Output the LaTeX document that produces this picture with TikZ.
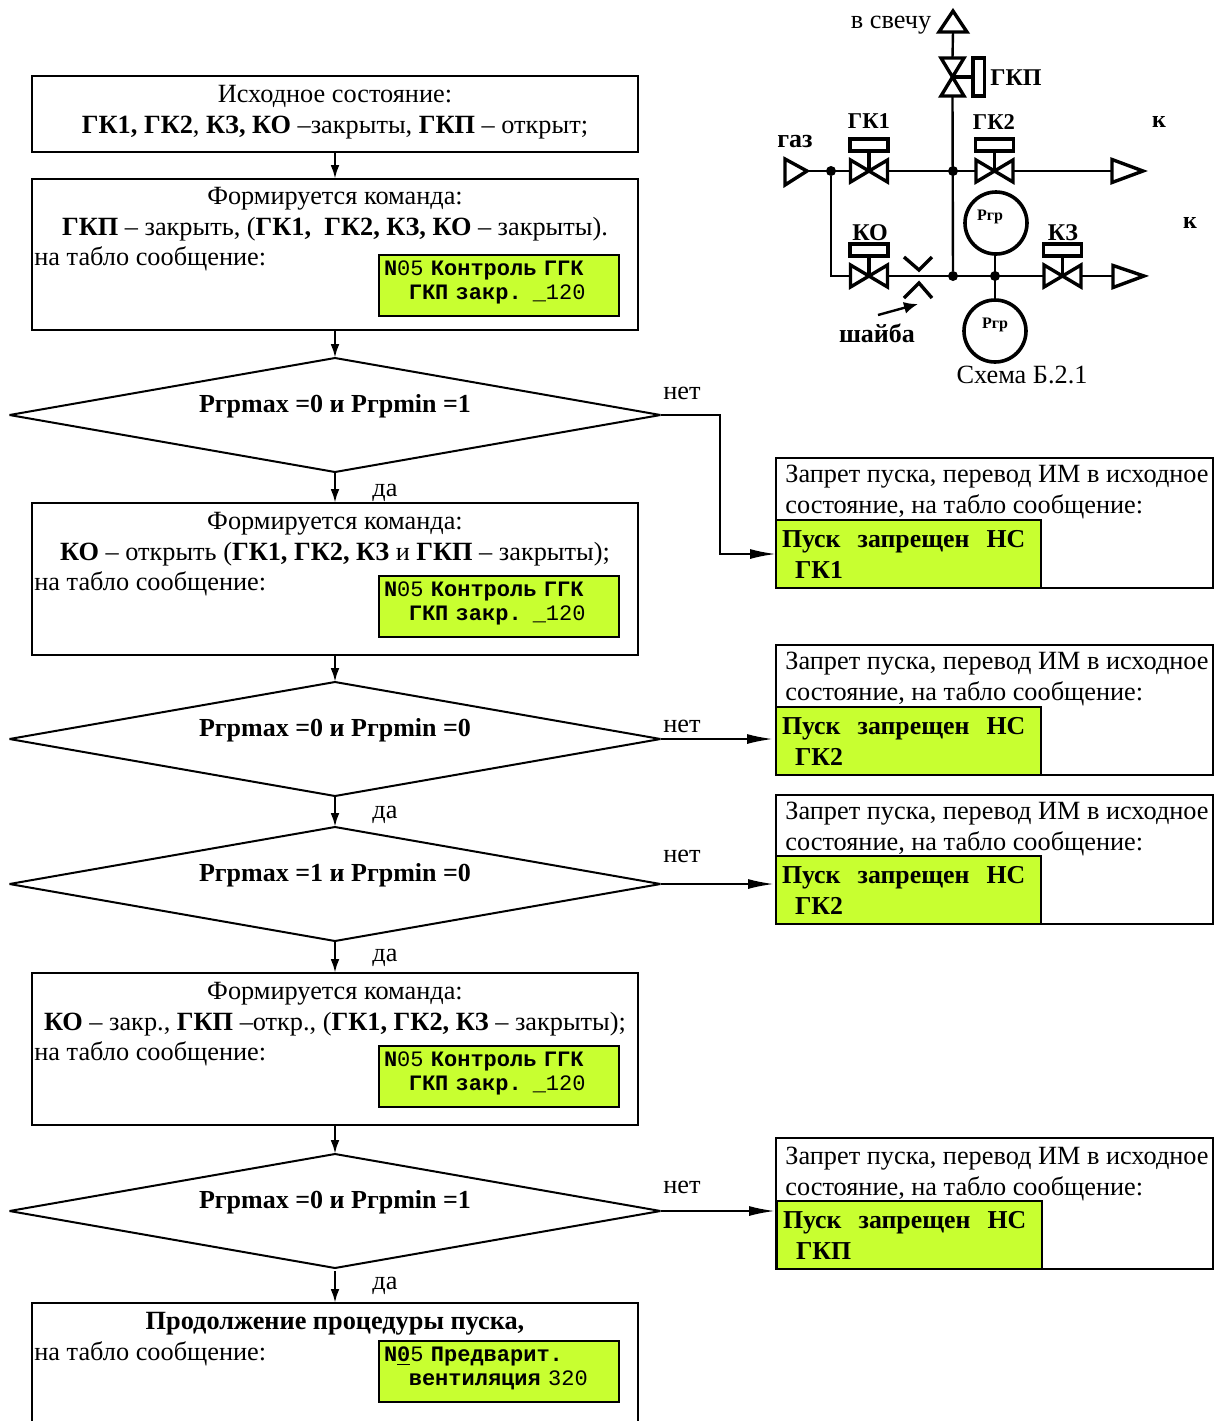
\documentclass[tikz,border=0pt]{standalone}
\usepackage{fontspec}
\setmainfont{Liberation Serif}
\setmonofont{Liberation Mono}
\usetikzlibrary{shapes.geometric, arrows.meta, positioning}
\definecolor{PanelGreen}{RGB}{200, 255, 48}

\tikzset{
    gasvalve/.pic={
        \draw[symbol] (-18.5,-11) -- (18.5,11) -- (18.5,-11) -- (-18.5,11) -- cycle;
        \draw[symbol] (0,0) -- (0,-20);
        \draw[symbol] (-19,-32) rectangle (19,-20);
        \coordinate (-w) at (-19,0);
        \coordinate (-e) at (19,0);
    },
    ventvalve/.pic={
        \draw[symbol] (-11.5,-19) -- (11.5,-19) -- (-11.5,19) -- (11.5,19) -- cycle;
        \draw[symbol] (0,0) -- (20,0);
        \draw[symbol] (20.5,-19) rectangle (32,19);
        \coordinate (-n) at (0,-19);
        \coordinate (-s) at (0,19);
    }
}

\begin{document}
\begin{tikzpicture}[
    x=0.5pt, y=-0.5pt,
    font=\fontsize{13.15}{15.5}\selectfont,
    procbox/.style={rectangle, draw, line width=1pt, inner sep=0pt, outer sep=0pt, minimum width=303pt},
    condbox/.style={diamond, draw, line width=1pt, line join=bevel, inner sep=0pt, outer sep=0pt, minimum width=325.5pt, minimum height=57pt},
    stopbox/.style={rectangle, draw, line width=1pt, inner sep=0pt, outer sep=0pt, minimum width=218.5pt},
    lcd/.style={rectangle, draw, line width=1.2pt, fill=PanelGreen, inner sep=0pt, outer sep=0pt, minimum width=120pt, minimum height=30.5pt, text width=115pt, align=left, font=\fontsize{11}{12}\selectfont\ttfamily, text depth=17pt},
    stoplcd/.style={rectangle, draw, line width=1pt, fill=PanelGreen, inner sep=0pt, outer sep=0pt, minimum width=132.5pt, minimum height=34pt, text width=126.5pt, align=left, font=\fontsize{12.9}{15.5}\selectfont\bfseries},
    cmdtext/.style={inner sep=0pt, align=center, execute at begin node={\rule{0pt}{9pt}}},
    lefttext/.style={inner sep=0pt, align=left, execute at begin node={\rule{0pt}{9pt}}},
    condtext/.style={inner sep=0pt, font=\fontsize{13}{15}\selectfont\bfseries},
    note/.style={inner sep=0pt},
    tag/.style={inner sep=0pt, font=\fontsize{12}{14}\selectfont\bfseries},
    gaugetag/.style={inner sep=0pt, font=\fontsize{8}{10}\selectfont\bfseries},
    vflow/.style={-{Latex[length=7pt,width=4.4pt]}, line width=1.2pt},
    hflow/.style={-{Latex[length=13pt,width=5pt]}, line width=1pt},
    pipe/.style={line width=1.2pt},
    symbol/.style={line width=1.7pt},
    gauge/.style={circle, draw, line width=1.8pt, inner sep=0pt, outer sep=0pt, minimum size=31pt},
    joint/.style={circle, fill=black, inner sep=0pt, outer sep=0pt, minimum size=5pt}
]
    \useasboundingbox (0,0) rectangle (1218,1421);

    % Основной алгоритм
    \node[procbox, minimum height=38pt] (initBox) at (335,114) {};
    \node[cmdtext, below=4.5pt of initBox.north] (initText) {Исходное состояние:\\ \textbf{ГК1, ГК2}, \textbf{КЗ, КО} –закрыты, \textbf{ГКП} – открыт;};

    \node[procbox, minimum height=75.5pt, below=13.5pt of initBox] (cmdA) {};
    \node[cmdtext, below=4pt of cmdA.north] (cmdAText) {Формируется команда:\\ \textbf{ГКП} – закрыть, (\textbf{ГК1,\ \ ГК2, КЗ, КО} – закрыты).};
    \node[lefttext, below right=33.5pt and 1pt of cmdA.north west] (cmdATablo) {на табло сообщение:};
    \node[lcd, below left=38pt and 9.5pt of cmdA.north east] (lcdA) {\textbf{N}05 \textbf{Контроль ГГК}\\ \hspace*{12.4pt}\textbf{ГКП закр.} \_120};

    \node[condbox, below=14pt of cmdA] (condA) {};
    \node[condtext] (condAText) at ([yshift=4.5pt]condA.center) {Ргрmax =0 и Ргрmin =1};

    \node[procbox, minimum height=76pt, below=15.5pt of condA] (cmdB) {};
    \node[cmdtext, below=4.5pt of cmdB.north] (cmdBText) {Формируется команда:\\ \textbf{КО} – открыть (\textbf{ГК1, ГК2, КЗ} и \textbf{ГКП} – закрыты);};
    \node[lefttext, below right=34pt and 1pt of cmdB.north west] (cmdBTablo) {на табло сообщение:};
    \node[lcd, below left=36.5pt and 9.5pt of cmdB.north east] (lcdB) {\textbf{N}05 \textbf{Контроль ГГК}\\ \hspace*{12.4pt}\textbf{ГКП закр.} \_120};

    \node[condbox, below=13.5pt of cmdB] (condB) {};
    \node[condtext] (condBText) at ([yshift=4.5pt]condB.center) {Ргрmax =0 и Ргрmin =0};

    \node[condbox, below=15.5pt of condB] (condC) {};
    \node[condtext] (condCText) at ([yshift=4.5pt]condC.center) {Ргрmax =1 и Ргрmin =0};

    \node[procbox, minimum height=76pt, below=16pt of condC] (cmdC) {};
    \node[cmdtext, below=4.5pt of cmdC.north] (cmdCText) {Формируется команда:\\ \textbf{КО} – закр., \textbf{ГКП} –откр., (\textbf{ГК1, ГК2, КЗ} – закрыты);};
    \node[lefttext, below right=34pt and 1pt of cmdC.north west] (cmdCTablo) {на табло сообщение:};
    \node[lcd, below left=36.5pt and 9.5pt of cmdC.north east] (lcdC) {\textbf{N}05 \textbf{Контроль ГГК}\\ \hspace*{12.4pt}\textbf{ГКП закр.} \_120};

    \node[condbox, below=14.5pt of cmdC] (condD) {};
    \node[condtext] (condDText) at ([yshift=4.5pt]condD.center) {Ргрmax =0 и Ргрmin =1};

    \node[procbox, minimum height=66pt, below=17.5pt of condD] (contBox) {};
    \node[cmdtext, below=4pt of contBox.north] (contText) {\textbf{Продолжение процедуры пуска,}};
    \node[lefttext, below right=19pt and 1pt of contBox.north west] (contTablo) {на табло сообщение:};
    \node[lcd, below left=19pt and 9.5pt of contBox.north east] (lcdD) {\textbf{N\underline{0}}5 \textbf{Предварит.}\\ \hspace*{12.4pt}\textbf{вентиляция} 320};

    % Запрет пуска
    \node[stopbox, minimum height=65pt] (stopA) at (994.5,523) {};
    \node[lefttext, below right=3.5pt and 4.5pt of stopA.north west] (stopAText) {Запрет пуска, перевод ИМ в исходное\\ состояние, на табло сообщение:};
    \node[stoplcd, above right=0pt and 0pt of stopA.south west] (stopALcd) {Пуск\ \ запрещен\ \ НС\\ \hspace*{6.5pt}ГК1};

    \node[stopbox, minimum height=65pt] (stopB) at (994.5,710) {};
    \node[lefttext, below right=3.5pt and 4.5pt of stopB.north west] (stopBText) {Запрет пуска, перевод ИМ в исходное\\ состояние, на табло сообщение:};
    \node[stoplcd, above right=0pt and 0pt of stopB.south west] (stopBLcd) {Пуск\ \ запрещен\ \ НС\\ \hspace*{6.5pt}ГК2};

    \node[stopbox, minimum height=64.5pt] (stopC) at (994.5,859.5) {};
    \node[lefttext, below right=3.5pt and 4.5pt of stopC.north west] (stopCText) {Запрет пуска, перевод ИМ в исходное\\ состояние, на табло сообщение:};
    \node[stoplcd, above right=0pt and 0pt of stopC.south west] (stopCLcd) {Пуск\ \ запрещен\ \ НС\\ \hspace*{6.5pt}ГК2};

    \node[stopbox, minimum height=65.5pt] (stopD) at (994.5,1203.5) {};
    \node[lefttext, below right=4.5pt and 4.5pt of stopD.north west] (stopDText) {Запрет пуска, перевод ИМ в исходное\\ состояние, на табло сообщение:};
    \node[stoplcd, above right=0pt and 0.5pt of stopD.south west] (stopDLcd) {Пуск\ \ запрещен\ \ НС\\ \hspace*{6.5pt}ГКП};

    % Соединения
    \coordinate (bendA) at (720,415);
    \draw[vflow] (initBox) -- (cmdA);
    \draw[vflow] (cmdA) -- (condA);
    \draw[vflow] (condA) -- (cmdB);
    \draw[vflow] (cmdB) -- (condB);
    \draw[vflow] (condB) -- (condC);
    \draw[vflow] (condC) -- (cmdC);
    \draw[vflow] (cmdC) -- (condD);
    \draw[vflow, shorten <=1.5pt] (condD) -- (contBox);
    \draw[hflow] (condA.east) -- (bendA) |- (stopALcd.west);
    \draw[hflow, shorten >=1.5pt] (condB.east) -- (condB.east -| stopB.west);
    \draw[hflow, shorten >=1pt] (condC.east) -- (condC.east -| stopC.west);
    \draw[hflow, shorten >=0.5pt] (condD.east) -- (condD.east -| stopD.west);

    \node[note] (yesA) at (385,493) {да};
    \node[note] (yesB) at (385,815) {да};
    \node[note] (yesC) at (385,958) {да};
    \node[note] (yesD) at (385,1286) {да};
    \node[note] (noA) at (682,393) {нет};
    \node[note] (noB) at (682,726) {нет};
    \node[note] (noC) at (682,856) {нет};
    \node[note] (noD) at (682,1187) {нет};

    % Схема Б.2.1
    \coordinate (gasIn) at (808,171);
    \coordinate (ventTip) at (953,32);
    \coordinate (outA) at (1112,171);
    \coordinate (outB) at (1113,276);
    \draw[symbol] (785,159) -- (807,171) -- (785,185) -- cycle;
    \draw[symbol] (939,32) -- (953,11) -- (967,32) -- cycle;
    \draw[symbol] (1112,159.5) -- (1143,171) -- (1112,182.5) -- cycle;
    \draw[symbol] (1113,265.5) -- (1144,276) -- (1113,287.5) -- cycle;

    \pic (gkOne) at (869,171) {gasvalve};
    \pic (gkTwo) at (994.5,171) {gasvalve};
    \pic (koValve) at (869,276) {gasvalve};
    \pic (kzValve) at (1062.5,276) {gasvalve};
    \pic (gkpValve) at (952.5,77) {ventvalve};

    \node[joint] (jGas) at (831,171) {};
    \node[joint] (jVent) at (953,171) {};
    \node[joint] (jVentLow) at (953,276) {};
    \node[joint] (jGauge) at (995,276) {};
    \node[gauge] (rgUp) at (996,223) {};
    \node[gauge] (rgLow) at (995,331) {};

    \draw[pipe] (gasIn) -- (gkOne-w);
    \draw[pipe] (gkOne-e) -- (gkTwo-w);
    \draw[pipe] (gkTwo-e) -- (outA);
    \draw[pipe] (jGas) |- (koValve-w);
    \draw[pipe] (koValve-e) -- (kzValve-w);
    \draw[pipe] (kzValve-e) -- (outB);
    \draw[pipe] (ventTip) -- (gkpValve-n);
    \draw[pipe] (gkpValve-s) -- (jVentLow);
    \draw[pipe] (jGauge |- rgUp.south) -- (jGauge |- rgLow.north);

    % Шайба
    \draw[symbol] (904,257) -- (919,270) -- (932,257);
    \draw[symbol] (904,298) -- (919,283) -- (932,298);
    \coordinate (washerIn) at (878,315);
    \coordinate (washerTip) at (918,304);
    \draw[-{Latex[length=7pt,width=6pt]}, line width=1.2pt] (washerIn) -- (washerTip);

    \node[note] (ventTag) at (891,25) {в свечу};
    \node[tag] (gkpTag) at (1016,78) {ГКП};
    \node[tag, font=\fontsize{11.3}{14}\selectfont\bfseries] (gkOneTag) at (869,121) {ГК1};
    \node[tag, font=\fontsize{11.3}{14}\selectfont\bfseries] (gkTwoTag) at (994,122) {ГК2};
    \node[tag] (koTag) at (870,233) {КО};
    \node[tag] (kzTag) at (1063,233) {КЗ};
    \node[tag, font=\fontsize{13}{14}\selectfont\bfseries] (gasTag) at (795,141) {газ};
    \node[tag] (outATag) at (1159,122) {к};
    \node[tag] (outBTag) at (1190,223) {к};
    \node[tag, font=\fontsize{13}{14}\selectfont\bfseries] (washerTag) at (877,333) {шайба};
    \node[gaugetag] (rgUpTag) at (990,217) {Ргр};
    \node[gaugetag] (rgLowTag) at (995,325) {Ргр};
    \node[note] (schemeTag) at (1022,375) {Схема Б.2.1};
\end{tikzpicture}
\end{document}
